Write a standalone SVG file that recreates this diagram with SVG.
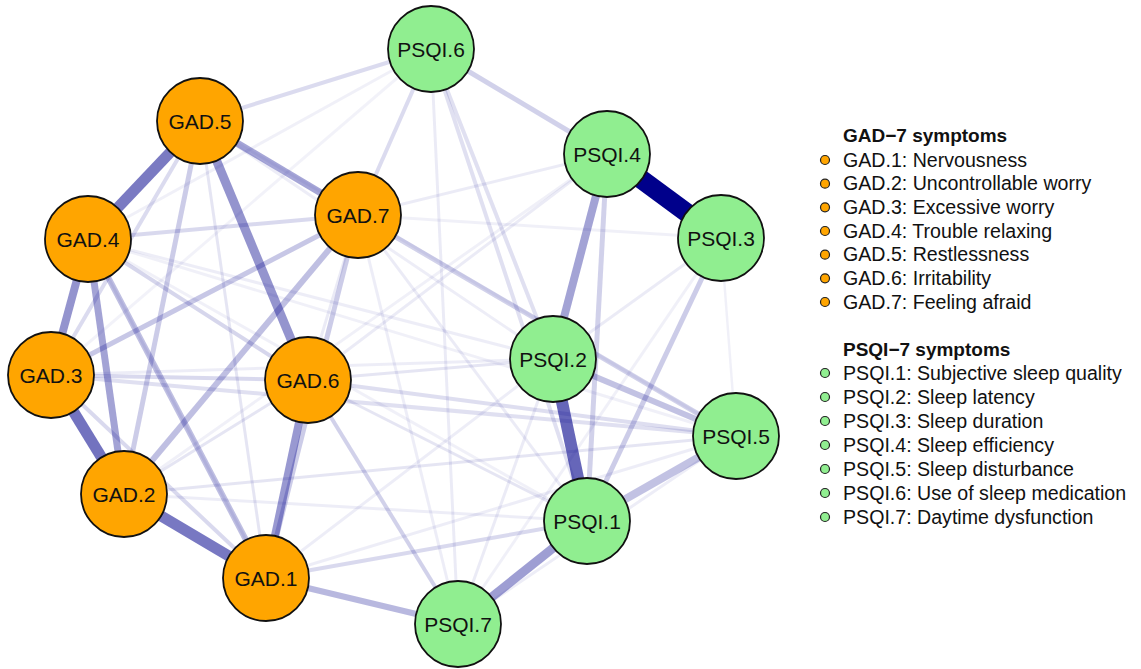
<svg xmlns="http://www.w3.org/2000/svg" width="1141" height="669" viewBox="0 0 1141 669">
<style>
.e{stroke:#00008B;fill:none;stroke-linecap:butt}
.gad{fill:#FFA500;stroke:#111;stroke-width:1.8}
.psqi{fill:#90EE90;stroke:#111;stroke-width:1.8}
.lbl{font-family:"Liberation Sans",Arial,sans-serif;font-size:21px;fill:#111;text-anchor:middle}
.lg{font-family:"Liberation Sans",Arial,sans-serif;font-size:19.6px;fill:#111}
.lgt{font-family:"Liberation Sans",Arial,sans-serif;font-size:19px;font-weight:bold;fill:#111}
.dg{fill:#FFA500;stroke:#222;stroke-width:1.2}
.dp{fill:#90EE90;stroke:#222;stroke-width:1.2}
</style>
<rect width="1141" height="669" fill="#fff"/>
<g id="edges">
<line class="e" x1="431" y1="49" x2="88" y2="239" stroke-width="3" stroke-opacity="0.06"/>
<line class="e" x1="431" y1="49" x2="51" y2="375" stroke-width="3" stroke-opacity="0.05"/>
<line class="e" x1="431" y1="49" x2="458" y2="624" stroke-width="3" stroke-opacity="0.08"/>
<line class="e" x1="431" y1="49" x2="553" y2="359" stroke-width="4" stroke-opacity="0.12"/>
<line class="e" x1="431" y1="49" x2="587" y2="521" stroke-width="4" stroke-opacity="0.12"/>
<line class="e" x1="358" y1="215" x2="721" y2="238" stroke-width="3" stroke-opacity="0.06"/>
<line class="e" x1="358" y1="215" x2="607" y2="154" stroke-width="3" stroke-opacity="0.08"/>
<line class="e" x1="358" y1="215" x2="587" y2="521" stroke-width="3" stroke-opacity="0.08"/>
<line class="e" x1="358" y1="215" x2="458" y2="624" stroke-width="3" stroke-opacity="0.07"/>
<line class="e" x1="200" y1="121" x2="553" y2="359" stroke-width="3" stroke-opacity="0.07"/>
<line class="e" x1="200" y1="121" x2="736" y2="436" stroke-width="3" stroke-opacity="0.05"/>
<line class="e" x1="200" y1="121" x2="266" y2="578" stroke-width="3" stroke-opacity="0.1"/>
<line class="e" x1="88" y1="239" x2="553" y2="359" stroke-width="3" stroke-opacity="0.07"/>
<line class="e" x1="88" y1="239" x2="736" y2="436" stroke-width="3" stroke-opacity="0.06"/>
<line class="e" x1="88" y1="239" x2="587" y2="521" stroke-width="3" stroke-opacity="0.06"/>
<line class="e" x1="51" y1="375" x2="553" y2="359" stroke-width="3" stroke-opacity="0.07"/>
<line class="e" x1="51" y1="375" x2="736" y2="436" stroke-width="4" stroke-opacity="0.12"/>
<line class="e" x1="124" y1="494" x2="736" y2="436" stroke-width="3" stroke-opacity="0.1"/>
<line class="e" x1="124" y1="494" x2="587" y2="521" stroke-width="3" stroke-opacity="0.07"/>
<line class="e" x1="124" y1="494" x2="308" y2="380" stroke-width="3" stroke-opacity="0.1"/>
<line class="e" x1="124" y1="494" x2="607" y2="154" stroke-width="3" stroke-opacity="0.06"/>
<line class="e" x1="266" y1="578" x2="553" y2="359" stroke-width="3" stroke-opacity="0.07"/>
<line class="e" x1="266" y1="578" x2="736" y2="436" stroke-width="3" stroke-opacity="0.07"/>
<line class="e" x1="308" y1="380" x2="553" y2="359" stroke-width="3" stroke-opacity="0.1"/>
<line class="e" x1="308" y1="380" x2="607" y2="154" stroke-width="3" stroke-opacity="0.08"/>
<line class="e" x1="308" y1="380" x2="358" y2="215" stroke-width="3" stroke-opacity="0.08"/>
<line class="e" x1="553" y1="359" x2="721" y2="238" stroke-width="3" stroke-opacity="0.08"/>
<line class="e" x1="458" y1="624" x2="721" y2="238" stroke-width="3" stroke-opacity="0.06"/>
<line class="e" x1="458" y1="624" x2="553" y2="359" stroke-width="3" stroke-opacity="0.08"/>
<line class="e" x1="458" y1="624" x2="736" y2="436" stroke-width="3" stroke-opacity="0.07"/>
<line class="e" x1="721" y1="238" x2="736" y2="436" stroke-width="2.5" stroke-opacity="0.06"/>
<line class="e" x1="88" y1="239" x2="266" y2="578" stroke-width="3" stroke-opacity="0.08"/>
<line class="e" x1="431" y1="49" x2="200" y2="121" stroke-width="4" stroke-opacity="0.14"/>
<line class="e" x1="431" y1="49" x2="358" y2="215" stroke-width="4" stroke-opacity="0.14"/>
<line class="e" x1="431" y1="49" x2="607" y2="154" stroke-width="5" stroke-opacity="0.18"/>
<line class="e" x1="358" y1="215" x2="88" y2="239" stroke-width="4" stroke-opacity="0.15"/>
<line class="e" x1="358" y1="215" x2="51" y2="375" stroke-width="5" stroke-opacity="0.22"/>
<line class="e" x1="358" y1="215" x2="124" y2="494" stroke-width="6" stroke-opacity="0.25"/>
<line class="e" x1="358" y1="215" x2="266" y2="578" stroke-width="5" stroke-opacity="0.2"/>
<line class="e" x1="358" y1="215" x2="736" y2="436" stroke-width="5" stroke-opacity="0.18"/>
<line class="e" x1="200" y1="121" x2="124" y2="494" stroke-width="5" stroke-opacity="0.2"/>
<line class="e" x1="200" y1="121" x2="51" y2="375" stroke-width="4" stroke-opacity="0.14"/>
<line class="e" x1="88" y1="239" x2="308" y2="380" stroke-width="4" stroke-opacity="0.16"/>
<line class="e" x1="88" y1="239" x2="266" y2="578" stroke-width="6" stroke-opacity="0.25"/>
<line class="e" x1="51" y1="375" x2="308" y2="380" stroke-width="4" stroke-opacity="0.15"/>
<line class="e" x1="51" y1="375" x2="266" y2="578" stroke-width="4" stroke-opacity="0.15"/>
<line class="e" x1="308" y1="380" x2="736" y2="436" stroke-width="4" stroke-opacity="0.13"/>
<line class="e" x1="308" y1="380" x2="587" y2="521" stroke-width="3" stroke-opacity="0.1"/>
<line class="e" x1="308" y1="380" x2="458" y2="624" stroke-width="4" stroke-opacity="0.18"/>
<line class="e" x1="266" y1="578" x2="587" y2="521" stroke-width="4" stroke-opacity="0.15"/>
<line class="e" x1="266" y1="578" x2="458" y2="624" stroke-width="6" stroke-opacity="0.28"/>
<line class="e" x1="607" y1="154" x2="587" y2="521" stroke-width="5" stroke-opacity="0.18"/>
<line class="e" x1="721" y1="238" x2="587" y2="521" stroke-width="5" stroke-opacity="0.2"/>
<line class="e" x1="553" y1="359" x2="736" y2="436" stroke-width="6" stroke-opacity="0.24"/>
<line class="e" x1="587" y1="521" x2="736" y2="436" stroke-width="8" stroke-opacity="0.24"/>
<line class="e" x1="200" y1="121" x2="358" y2="215" stroke-width="7" stroke-opacity="0.35"/>
<line class="e" x1="88" y1="239" x2="124" y2="494" stroke-width="7" stroke-opacity="0.36"/>
<line class="e" x1="88" y1="239" x2="51" y2="375" stroke-width="8" stroke-opacity="0.42"/>
<line class="e" x1="200" y1="121" x2="308" y2="380" stroke-width="9" stroke-opacity="0.42"/>
<line class="e" x1="308" y1="380" x2="266" y2="578" stroke-width="8" stroke-opacity="0.4"/>
<line class="e" x1="587" y1="521" x2="458" y2="624" stroke-width="9" stroke-opacity="0.38"/>
<line class="e" x1="607" y1="154" x2="553" y2="359" stroke-width="8" stroke-opacity="0.36"/>
<line class="e" x1="200" y1="121" x2="88" y2="239" stroke-width="11" stroke-opacity="0.52"/>
<line class="e" x1="51" y1="375" x2="124" y2="494" stroke-width="11" stroke-opacity="0.55"/>
<line class="e" x1="124" y1="494" x2="266" y2="578" stroke-width="11" stroke-opacity="0.53"/>
<line class="e" x1="553" y1="359" x2="587" y2="521" stroke-width="12" stroke-opacity="0.6"/>
<line class="e" x1="607" y1="154" x2="721" y2="238" stroke-width="19" stroke-opacity="1"/>
</g>
<g id="node-GAD1"><circle class="gad" cx="266" cy="578" r="43"/><text class="lbl" x="266" y="585.5">GAD.1</text></g>
<g id="node-GAD2"><circle class="gad" cx="124" cy="494" r="43"/><text class="lbl" x="124" y="501.5">GAD.2</text></g>
<g id="node-GAD3"><circle class="gad" cx="51" cy="375" r="43"/><text class="lbl" x="51" y="382.5">GAD.3</text></g>
<g id="node-GAD4"><circle class="gad" cx="88" cy="239" r="43"/><text class="lbl" x="88" y="246.5">GAD.4</text></g>
<g id="node-GAD5"><circle class="gad" cx="200" cy="121" r="43"/><text class="lbl" x="200" y="128.5">GAD.5</text></g>
<g id="node-GAD6"><circle class="gad" cx="308" cy="380" r="43"/><text class="lbl" x="308" y="387.5">GAD.6</text></g>
<g id="node-GAD7"><circle class="gad" cx="358" cy="215" r="43"/><text class="lbl" x="358" y="222.5">GAD.7</text></g>
<g id="node-PSQI1"><circle class="psqi" cx="587" cy="521" r="43"/><text class="lbl" x="587" y="528.5">PSQI.1</text></g>
<g id="node-PSQI2"><circle class="psqi" cx="553" cy="359" r="43"/><text class="lbl" x="553" y="366.5">PSQI.2</text></g>
<g id="node-PSQI3"><circle class="psqi" cx="721" cy="238" r="43"/><text class="lbl" x="721" y="245.5">PSQI.3</text></g>
<g id="node-PSQI4"><circle class="psqi" cx="607" cy="154" r="43"/><text class="lbl" x="607" y="161.5">PSQI.4</text></g>
<g id="node-PSQI5"><circle class="psqi" cx="736" cy="436" r="43"/><text class="lbl" x="736" y="443.5">PSQI.5</text></g>
<g id="node-PSQI6"><circle class="psqi" cx="431" cy="49" r="43"/><text class="lbl" x="431" y="56.5">PSQI.6</text></g>
<g id="node-PSQI7"><circle class="psqi" cx="458" cy="624" r="43"/><text class="lbl" x="458" y="631.5">PSQI.7</text></g>
<g id="legend">
<text class="lgt" x="843" y="142">GAD−7 symptoms</text>
<circle class="dg" cx="825" cy="160" r="4.5"/><text class="lg" x="843" y="166.5">GAD.1: Nervousness</text>
<circle class="dg" cx="825" cy="183.7" r="4.5"/><text class="lg" x="843" y="190.2">GAD.2: Uncontrollable worry</text>
<circle class="dg" cx="825" cy="207.3" r="4.5"/><text class="lg" x="843" y="213.8">GAD.3: Excessive worry</text>
<circle class="dg" cx="825" cy="231" r="4.5"/><text class="lg" x="843" y="237.5">GAD.4: Trouble relaxing</text>
<circle class="dg" cx="825" cy="254.7" r="4.5"/><text class="lg" x="843" y="261.2">GAD.5: Restlessness</text>
<circle class="dg" cx="825" cy="278.3" r="4.5"/><text class="lg" x="843" y="284.8">GAD.6: Irritability</text>
<circle class="dg" cx="825" cy="302" r="4.5"/><text class="lg" x="843" y="308.5">GAD.7: Feeling afraid</text>
<text class="lgt" x="843" y="356">PSQI−7 symptoms</text>
<circle class="dp" cx="825" cy="373" r="4.5"/><text class="lg" x="843" y="379.5">PSQI.1: Subjective sleep quality</text>
<circle class="dp" cx="825" cy="397" r="4.5"/><text class="lg" x="843" y="403.5">PSQI.2: Sleep latency</text>
<circle class="dp" cx="825" cy="421" r="4.5"/><text class="lg" x="843" y="427.5">PSQI.3: Sleep duration</text>
<circle class="dp" cx="825" cy="445" r="4.5"/><text class="lg" x="843" y="451.5">PSQI.4: Sleep efficiency</text>
<circle class="dp" cx="825" cy="469" r="4.5"/><text class="lg" x="843" y="475.5">PSQI.5: Sleep disturbance</text>
<circle class="dp" cx="825" cy="493" r="4.5"/><text class="lg" x="843" y="499.5">PSQI.6: Use of sleep medication</text>
<circle class="dp" cx="825" cy="517" r="4.5"/><text class="lg" x="843" y="523.5">PSQI.7: Daytime dysfunction</text>
</g>
</svg>
